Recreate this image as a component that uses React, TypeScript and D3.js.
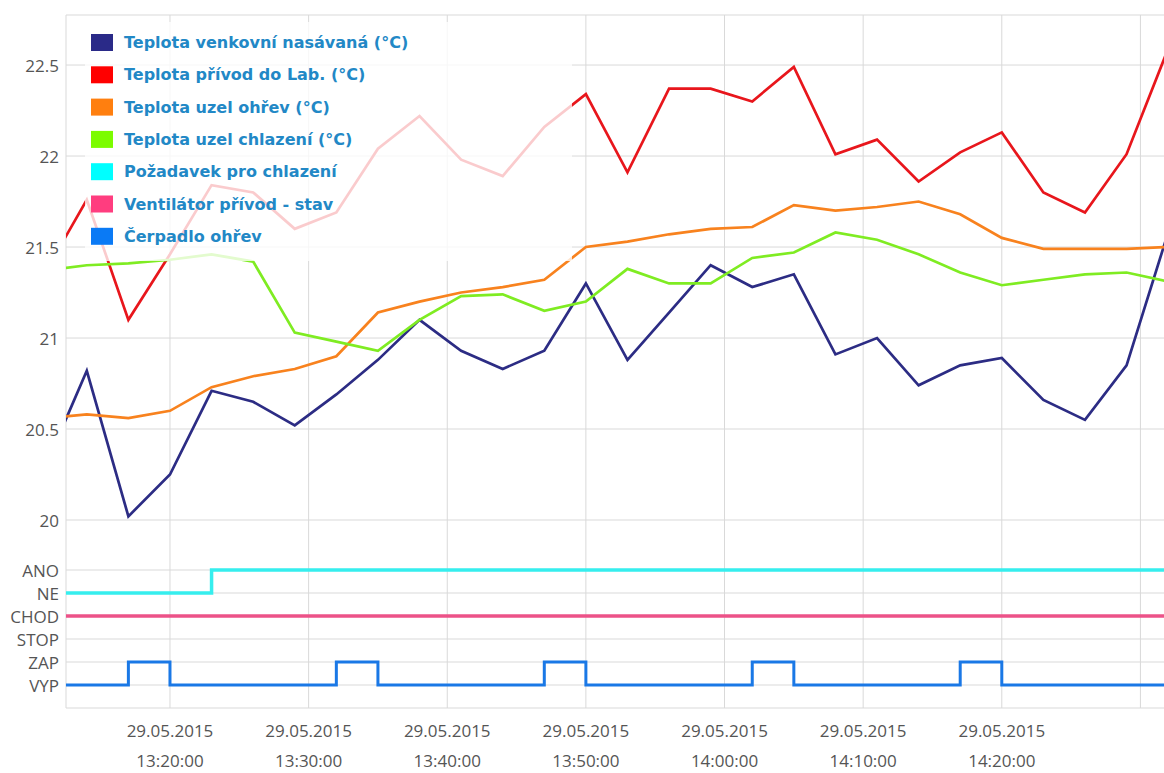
import React from "react";
import * as d3 from "d3";

// Sampling times (29.05.2015), one reading every 3 minutes
const times = [
  "13:11", "13:14", "13:17", "13:20", "13:23", "13:26", "13:29", "13:32", "13:35", "13:38",
  "13:41", "13:44", "13:47", "13:50", "13:53", "13:56", "13:59", "14:02", "14:05", "14:08",
  "14:11", "14:14", "14:17", "14:20", "14:23", "14:26", "14:29", "14:32",
];

// Temperatures (°C)
const tempVenkovni = [
  20.29, 20.82, 20.02, 20.25, 20.71, 20.65, 20.52, 20.69, 20.88, 21.1,
  20.93, 20.83, 20.93, 21.3, 20.88, 21.14, 21.4, 21.28, 21.35, 20.91,
  21.0, 20.74, 20.85, 20.89, 20.66, 20.55, 20.85, 21.58,
];
const tempPrivod = [
  21.36, 21.76, 21.1, 21.46, 21.84, 21.8, 21.6, 21.69, 22.04, 22.22,
  21.98, 21.89, 22.16, 22.34, 21.91, 22.37, 22.37, 22.3, 22.49, 22.01,
  22.09, 21.86, 22.02, 22.13, 21.8, 21.69, 22.01, 22.59,
];
const tempOhrev = [
  20.56, 20.58, 20.56, 20.6, 20.73, 20.79, 20.83, 20.9, 21.14, 21.2,
  21.25, 21.28, 21.32, 21.5, 21.53, 21.57, 21.6, 21.61, 21.73, 21.7,
  21.72, 21.75, 21.68, 21.55, 21.49, 21.49, 21.49, 21.5,
];
const tempChlazeni = [
  21.37, 21.4, 21.41, 21.43, 21.46, 21.42, 21.03, 20.98, 20.93, 21.1,
  21.23, 21.24, 21.15, 21.2, 21.38, 21.3, 21.3, 21.44, 21.47, 21.58,
  21.54, 21.46, 21.36, 21.29, 21.32, 21.35, 21.36, 21.31,
];

// Binary states
const pozadavek = [
  "NE", "NE", "NE", "NE", "ANO", "ANO", "ANO", "ANO", "ANO", "ANO",
  "ANO", "ANO", "ANO", "ANO", "ANO", "ANO", "ANO", "ANO", "ANO", "ANO",
  "ANO", "ANO", "ANO", "ANO", "ANO", "ANO", "ANO", "ANO",
];
const ventilator = [
  "CHOD", "CHOD", "CHOD", "CHOD", "CHOD", "CHOD", "CHOD", "CHOD", "CHOD", "CHOD",
  "CHOD", "CHOD", "CHOD", "CHOD", "CHOD", "CHOD", "CHOD", "CHOD", "CHOD", "CHOD",
  "CHOD", "CHOD", "CHOD", "CHOD", "CHOD", "CHOD", "CHOD", "CHOD",
];
const cerpadlo = [
  "VYP", "VYP", "ZAP", "VYP", "VYP", "VYP", "VYP", "ZAP", "VYP", "VYP",
  "VYP", "VYP", "ZAP", "VYP", "VYP", "VYP", "VYP", "ZAP", "VYP", "VYP",
  "VYP", "VYP", "ZAP", "VYP", "VYP", "VYP", "VYP", "VYP",
];

const stateLabels = ["ANO", "NE", "CHOD", "STOP", "ZAP", "VYP"];
const tempTicks = [20, 20.5, 21, 21.5, 22, 22.5];

const legendNames = [
  "Teplota venkovní nasávaná (°C)",
  "Teplota přívod do Lab. (°C)",
  "Teplota uzel ohřev (°C)",
  "Teplota uzel chlazení (°C)",
  "Požadavek pro chlazení",
  "Ventilátor přívod - stav",
  "Čerpadlo ohřev",
];
const colors = ["#2c2c84", "#e8161c", "#f8821e", "#7fec22", "#36eeee", "#ec5288", "#1a78e6"];
const legendSwatch = ["#2a2a88", "#ff0000", "#ff7f0f", "#7cfc00", "#00ffff", "#ff3d7f", "#0a7af5"];

const W = 1164;
const H = 773;
const left = 66;
const right = 1164;
const top = 15;
const tempBottom = 520;
const bottom = 708;

const toDate = (hm: string, s = 0) => {
  const [h, m] = hm.split(":").map(Number);
  return new Date(2015, 4, 29, h, m, s);
};

export default function App() {
  const dates = times.map((t) => toDate(t));

  const x = d3
    .scaleTime()
    .domain([toDate("13:12", 30), toDate("14:31", 42)])
    .range([left, right]);

  const y = d3.scaleLinear().domain([20, 22.775]).range([tempBottom, top]);

  const yState = d3.scalePoint<string>().domain(stateLabels).range([570, 685]);

  const tempLine = d3
    .line<number>()
    .x((_, i) => x(dates[i]))
    .y((v) => y(v));

  const stateLine = d3
    .line<string>()
    .x((_, i) => x(dates[i]))
    .y((v) => yState(v) as number)
    .curve(d3.curveStepAfter);

  const xTicks = x.ticks(d3.timeMinute.every(10) as d3.TimeInterval);
  const fmtDate = d3.timeFormat("%d.%m.%Y");
  const fmtTime = d3.timeFormat("%H:%M:%S");

  const tempSeries = [tempVenkovni, tempPrivod, tempOhrev, tempChlazeni];
  const stateSeries = [pozadavek, ventilator, cerpadlo];
  const stateWidths = [3.5, 3.5, 3];

  const grid = "#d9d9d9";
  const axisFont = "'Open Sans', sans-serif";

  return (
    <svg
      width={W}
      height={H}
      style={{ position: "absolute", left: 0, top: 0, background: "#fff" }}
    >
      <defs>
        <clipPath id="plotClip">
          <rect x={left} y={top} width={right - left + 10} height={bottom - top} />
        </clipPath>
      </defs>

      {/* grid */}
      <g>
        {xTicks.map((t) => (
          <line key={+t} x1={x(t)} x2={x(t)} y1={top} y2={bottom} stroke={grid} strokeWidth={1} />
        ))}
        {tempTicks.map((v) => (
          <line key={v} x1={left} x2={right} y1={y(v)} y2={y(v)} stroke={grid} strokeWidth={1} />
        ))}
        {stateLabels.map((s) => (
          <line key={s} x1={left} x2={right} y1={yState(s)} y2={yState(s)} stroke={grid} strokeWidth={1} />
        ))}
        <line x1={left} x2={right} y1={top} y2={top} stroke={grid} />
        <line x1={left} x2={right} y1={bottom} y2={bottom} stroke={grid} />
        <line x1={left} x2={left} y1={top} y2={bottom} stroke={grid} />
      </g>

      {/* y labels */}
      <g fontFamily={axisFont} fontSize={17} fill="#555" textAnchor="end">
        {tempTicks.map((v) => (
          <text key={v} x={59} y={y(v) + 7}>
            {String(v)}
          </text>
        ))}
        {stateLabels.map((s) => (
          <text key={s} x={59} y={(yState(s) as number) + 6.5}>
            {s}
          </text>
        ))}
      </g>

      {/* x labels */}
      <g fontFamily={axisFont} fontSize={17} fill="#555" textAnchor="middle">
        {xTicks
          .filter((t) => x(t) + 48 < W)
          .map((t) => (
            <g key={+t}>
              <text x={x(t)} y={737}>
                {fmtDate(t)}
              </text>
              <text x={x(t)} y={767}>
                {fmtTime(t)}
              </text>
            </g>
          ))}
      </g>

      {/* series */}
      <g clipPath="url(#plotClip)" fill="none" strokeLinejoin="miter">
        {tempSeries.map((s, i) => (
          <path key={i} d={tempLine(s) ?? ""} stroke={colors[i]} strokeWidth={2.7} />
        ))}
        {stateSeries.map((s, i) => (
          <path key={i} d={stateLine(s) ?? ""} stroke={colors[i + 4]} strokeWidth={stateWidths[i]} />
        ))}
      </g>

      {/* legend */}
      <g>
        <rect x={85} y={22} width={487} height={239} fill="#fff" fillOpacity={0.78} />
        {legendNames.map((name, i) => (
          <g key={name} transform={`translate(91, ${34 + i * 32.3})`}>
            <rect x={0} y={0} width={22} height={17} fill={legendSwatch[i]} />
            <text
              x={33}
              y={14}
              fontFamily="'DejaVu Sans', sans-serif"
              fontWeight="bold"
              fontSize={16}
              fill="#2288c6"
            >
              {name}
            </text>
          </g>
        ))}
      </g>
    </svg>
  );
}
